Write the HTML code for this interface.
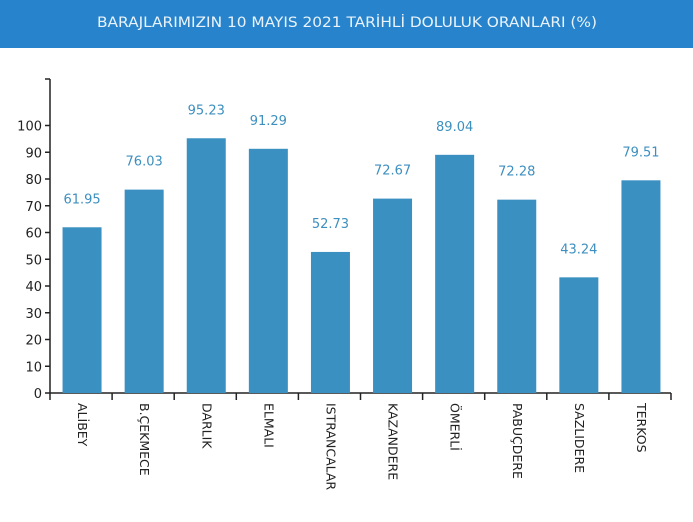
<!DOCTYPE html>
<html><head><style>
body{margin:0;width:693px;height:518px;background:#fff;overflow:hidden;font-family:"DejaVu Sans","Liberation Sans",sans-serif}
</style></head><body>
<svg width="693" height="518" xmlns="http://www.w3.org/2000/svg">
<rect x="0" y="0" width="693" height="48" fill="#2784cc"/>
<text x="347" y="27" text-anchor="middle" fill="#eaf3fb" font-size="14" textLength="500" lengthAdjust="spacingAndGlyphs" font-family="DejaVu Sans, sans-serif">BARAJLARIMIZIN 10 MAYIS 2021 TARİHLİ DOLULUK ORANLARI (%)</text>
<g stroke="#222" stroke-width="1.5" fill="none">
<line x1="50" y1="79" x2="50" y2="393"/>
<line x1="50" y1="393" x2="671" y2="393"/>
<line x1="45" y1="79" x2="50" y2="79"/>
</g>
</svg>
<script>
const ns="http://www.w3.org/2000/svg",s=document.querySelector('svg');
function el(t,a,txt){const e=document.createElementNS(ns,t);for(const k in a)e.setAttribute(k,a[k]);if(txt!=null)e.textContent=txt;s.appendChild(e);return e;}
const y0=393,k=2.675;
for(let v=0;v<=100;v+=10){const y=y0-v*k;el('line',{x1:45,y1:y,x2:50,y2:y,stroke:'#222','stroke-width':1.5});el('text',{x:42,y:y+5,'font-size':13,fill:'#222','text-anchor':'end','font-family':'DejaVu Sans, sans-serif'},v);}
const d=[["ALİBEY",61.95],["B.ÇEKMECE",76.03],["DARLIK",95.23],["ELMALI",91.29],["ISTRANCALAR",52.73],["KAZANDERE",72.67],["ÖMERLİ",89.04],["PABUÇDERE",72.28],["SAZLIDERE",43.24],["TERKOS",79.51]];
const sp=62.1;
d.forEach((r,i)=>{const x=50+i*sp,cx=x+sp/2+1,h=r[1]*k;
el('rect',{x:cx-19.5,y:y0-h,width:39,height:h,fill:'#3b90c2'});
el('text',{x:cx,y:y0-h-24,'font-size':13,fill:'#3d8fbf','text-anchor':'middle','font-family':'DejaVu Sans, sans-serif'},r[1].toFixed(2));
el('line',{x1:x+sp,y1:y0,x2:x+sp,y2:y0+7,stroke:'#222','stroke-width':1.5});
el('text',{transform:`translate(${cx-4},${y0+10}) rotate(90)`,'font-size':12.5,fill:'#222','font-family':'DejaVu Sans, sans-serif'},r[0]);
});
el('line',{x1:50,y1:y0,x2:50,y2:y0+7,stroke:'#222','stroke-width':1.5});
</script>
</body></html>
